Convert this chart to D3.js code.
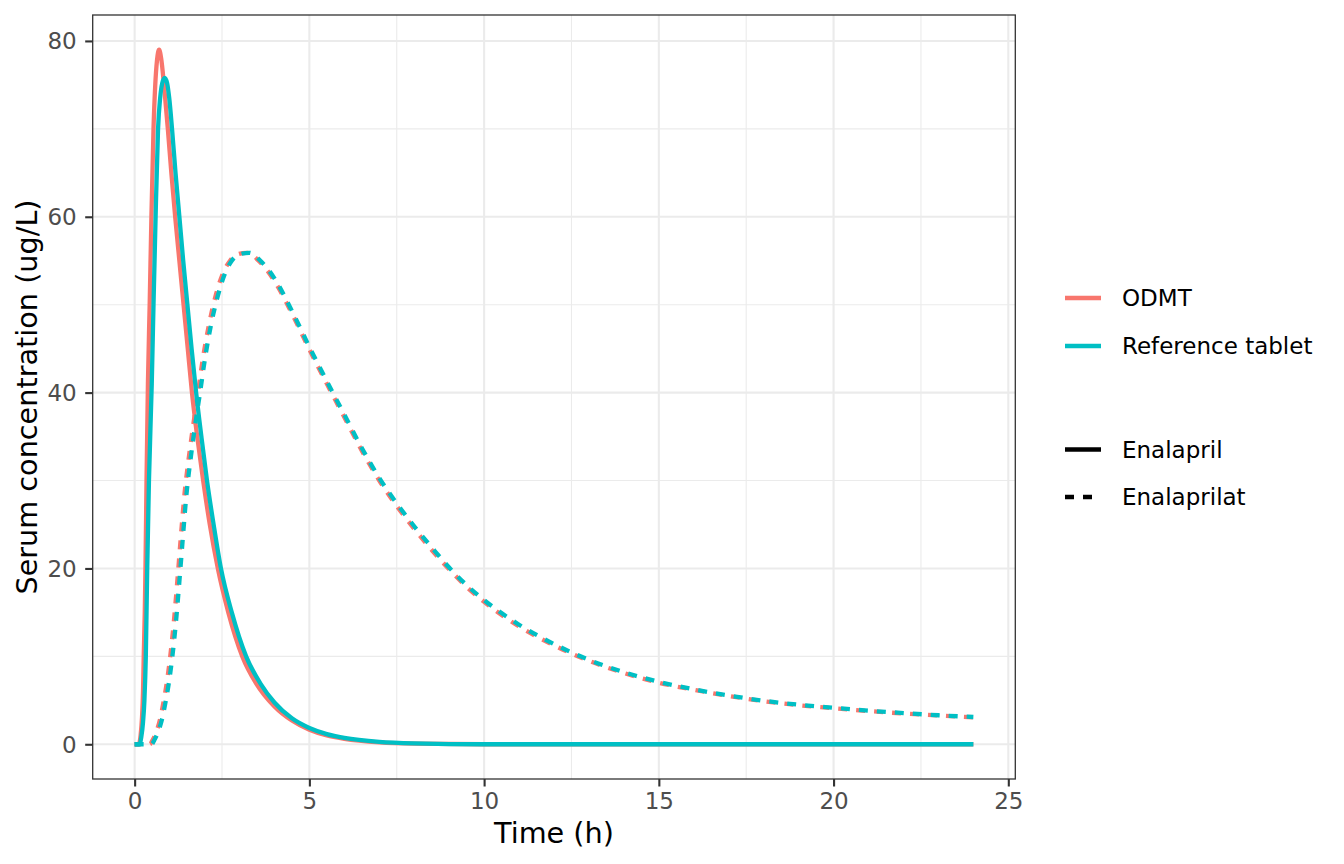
<!DOCTYPE html>
<html>
<head>
<meta charset="utf-8">
<script src="https://cdn.jsdelivr.net/npm/d3@7"></script>
<style>
	body { margin: 0; background: #fff; }
	text { font-family: "DejaVu Sans", sans-serif; }
</style>
</head>
<body>
<div id="chart"></div>
<script>
// Enalapril (solid) and enalaprilat (dashed) serum curves for the two formulations
var formulations= ["ODMT","Reference tablet"];
var analytes= ["Enalapril","Enalaprilat"];
var form_colors= ["#F8766D","#00BFC4"];

var odmt_enalapril_t= [0,0.12,0.17,0.21,0.24,0.26,0.29,0.31,0.34,0.38,0.43,0.48,0.54,0.59,0.64,0.70,0.76,0.84,0.95,1.05,1.16,1.28,1.40,1.52,1.64,1.79,1.96,2.15,2.38,2.68,3.08,3.48,4.0,4.5,5.0,5.5,6.0,7.0,8.0,10.0,24.0];
var odmt_enalapril_c= [0,0,1,3,6,10,15,20,30,41,50,60,70,75,77.8,79,78,75,70,65,60,55,50,45,40,35,30,25,20,15,10,6.9,4.3,2.7,1.65,1.0,0.62,0.22,0.07,0,0];

var ref_enalapril_t= [0,0.14,0.19,0.24,0.28,0.32,0.36,0.41,0.49,0.54,0.60,0.67,0.73,0.79,0.86,0.93,0.99,1.07,1.17,1.28,1.39,1.51,1.63,1.76,1.91,2.07,2.26,2.47,2.78,3.19,3.6,4.0,4.5,5.0,5.5,6.0,7.0,8.0,10.0,24.0];
var ref_enalapril_c= [0,0,0.8,2.5,5,10,20,30,41,50,60,70,73.5,75.2,75.8,75.2,73.5,70,65,60,55,50,45,40,35,30,25,20,15,10,6.9,4.75,2.95,1.85,1.15,0.72,0.27,0.1,0,0];

var odmt_enalaprilat_t= [0,0.43,0.53,0.63,0.73,0.83,0.93,1.03,1.13,1.23,1.33,1.43,1.53,1.63,1.73,1.83,1.93,2.13,2.33,2.53,2.73,2.93,3.2,3.6,4.0,4.5,5.0,5.5,6.0,6.5,7.0,7.5,8.0,8.5,9.0,9.5,10,11,12,13,14,15,16,17,18,19,20,21,22,23,24];
var odmt_enalaprilat_c= [0,0,0.6,1.5,2.9,4.9,7.3,10.4,14.3,19.0,24.0,28.6,32.0,35.0,37.8,40.5,43.3,47.8,51.2,53.6,55.0,55.7,55.9,54.8,52.7,49.0,44.9,41.0,37.2,33.4,30.0,27.1,24.5,22.1,19.9,17.9,16.2,13.4,11.25,9.5,8.1,7.0,6.2,5.5,4.9,4.45,4.1,3.78,3.5,3.27,3.07];

var ref_enalaprilat_t= [0,0.48,0.58,0.68,0.78,0.88,0.98,1.08,1.18,1.28,1.38,1.48,1.58,1.68,1.78,1.88,1.98,2.18,2.38,2.58,2.78,2.98,3.28,3.6,4.0,4.5,5.0,5.5,6.0,6.5,7.0,7.5,8.0,8.5,9.0,9.5,10,11,12,13,14,15,16,17,18,19,20,21,22,23,24];
var ref_enalaprilat_c= [0,0,0.6,1.5,2.8,4.7,7.0,10.0,13.8,18.5,23.5,28.3,31.8,34.8,37.6,40.2,43.0,47.6,51.0,53.5,55.0,55.7,55.9,55.0,53.0,49.3,45.2,41.3,37.5,33.7,30.3,27.4,24.8,22.4,20.1,18.1,16.4,13.6,11.4,9.6,8.2,7.1,6.25,5.55,4.95,4.5,4.15,3.82,3.55,3.3,3.1];

var x_ticks= [0,5,10,15,20,25];
var y_ticks= [0,20,40,60,80];

function zip(t, c) {
	return t.map(function(d, i) { return {t: d, c: c[i]}; });
}

// drawing order as in the source plot: ODMT first, reference on top
var series= [
	{form: 0, analyte: 0, data: zip(odmt_enalapril_t, odmt_enalapril_c)},
	{form: 0, analyte: 1, data: zip(odmt_enalaprilat_t, odmt_enalaprilat_c)},
	{form: 1, analyte: 0, data: zip(ref_enalapril_t, ref_enalapril_c)},
	{form: 1, analyte: 1, data: zip(ref_enalaprilat_t, ref_enalaprilat_c)}
];

function draw_chart(view) {
	var W= 1344, H= 864;
	var left= 92.7, right= 1015.3, top= 15, bottom= 779;
	var lw= 4.3;

	var svg= d3.select("#" + view)
		.append("svg")
		.attr("width", W)
		.attr("height", H);

	var x= d3.scaleLinear().domain([-1.2, 25.2]).range([left, right]);
	var y= d3.scaleLinear().domain([-3.95, 82.95]).range([bottom, top]);

	var grid= svg.append("g");
	var x_minor= [2.5,7.5,12.5,17.5,22.5];
	var y_minor= [10,30,50,70];

	grid.selectAll(".xminor").data(x_minor).enter().append("line")
		.attr("x1", function(d) { return x(d); }).attr("x2", function(d) { return x(d); })
		.attr("y1", top).attr("y2", bottom)
		.attr("stroke", "#EBEBEB").attr("stroke-width", 1.1);
	grid.selectAll(".yminor").data(y_minor).enter().append("line")
		.attr("x1", left).attr("x2", right)
		.attr("y1", function(d) { return y(d); }).attr("y2", function(d) { return y(d); })
		.attr("stroke", "#EBEBEB").attr("stroke-width", 1.1);
	grid.selectAll(".xmajor").data(x_ticks).enter().append("line")
		.attr("x1", function(d) { return x(d); }).attr("x2", function(d) { return x(d); })
		.attr("y1", top).attr("y2", bottom)
		.attr("stroke", "#EBEBEB").attr("stroke-width", 2.1);
	grid.selectAll(".ymajor").data(y_ticks).enter().append("line")
		.attr("x1", left).attr("x2", right)
		.attr("y1", function(d) { return y(d); }).attr("y2", function(d) { return y(d); })
		.attr("stroke", "#EBEBEB").attr("stroke-width", 2.1);

	var line= d3.line()
		.x(function(d) { return x(d.t); })
		.y(function(d) { return y(d.c); })
		.curve(d3.curveMonotoneX);

	svg.append("g").selectAll("path")
		.data(series)
		.enter().append("path")
		.attr("d", function(d) { return line(d.data); })
		.attr("fill", "none")
		.attr("stroke", function(d) { return form_colors[d.form]; })
		.attr("stroke-width", lw)
		.attr("stroke-linejoin", "round")
		.attr("stroke-dasharray", function(d) { return d.analyte== 1 ? "9,9" : null; })
		.attr("stroke-dashoffset", function(d) { return (d.analyte== 1 && d.form== 0) ? 2.5 : 0; });

	svg.append("rect")
		.attr("x", left).attr("y", top)
		.attr("width", right- left).attr("height", bottom- top)
		.attr("fill", "none")
		.attr("stroke", "#333333")
		.attr("stroke-width", 1.3);

	// axes
	var x_axis= d3.axisBottom(x).tickValues(x_ticks).tickSize(7.5).tickPadding(5);
	var y_axis= d3.axisLeft(y).tickValues(y_ticks).tickSize(7.5).tickPadding(5);

	var gx= svg.append("g").attr("transform", "translate(0," + bottom + ")").call(x_axis);
	var gy= svg.append("g").attr("transform", "translate(" + left + ",0)").call(y_axis);

	[gx, gy].forEach(function(g) {
		g.select(".domain").remove();
		g.selectAll(".tick line").attr("stroke", "#333333").attr("stroke-width", 2.1);
		g.selectAll(".tick text")
			.attr("fill", "#4D4D4D")
			.style("font-size", "23px")
			.style("font-family", "DejaVu Sans");
	});
	gx.selectAll(".tick text").attr("y", 13.5).attr("dy", "0.71em");
	gy.selectAll(".tick text").attr("x", -16).attr("dy", "0.35em");

	svg.append("text")
		.attr("x", (left+ right)/ 2)
		.attr("y", 843)
		.attr("text-anchor", "middle")
		.style("font-size", "28.7px")
		.text("Time (h)");

	svg.append("text")
		.attr("transform", "translate(37," + ((top+ bottom)/ 2) + ") rotate(-90)")
		.attr("text-anchor", "middle")
		.style("font-size", "28.7px")
		.text("Serum concentration (ug/L)");

	// legends
	var legend= svg.append("g");
	var col_rows= [298, 346];
	var lt_rows= [449.5, 497];

	formulations.forEach(function(name, i) {
		legend.append("line")
			.attr("x1", 1065).attr("x2", 1101)
			.attr("y1", col_rows[i]).attr("y2", col_rows[i])
			.attr("stroke", form_colors[i])
			.attr("stroke-width", lw);
		legend.append("text")
			.attr("x", 1122)
			.attr("y", col_rows[i])
			.attr("dy", "0.35em")
			.style("font-size", "23px")
			.text(name);
	});

	analytes.forEach(function(name, i) {
		legend.append("line")
			.attr("x1", 1065).attr("x2", 1101)
			.attr("y1", lt_rows[i]).attr("y2", lt_rows[i])
			.attr("stroke", "#000")
			.attr("stroke-width", lw)
			.attr("stroke-dasharray", i== 1 ? "9,9" : null);
		legend.append("text")
			.attr("x", 1122)
			.attr("y", lt_rows[i])
			.attr("dy", "0.35em")
			.style("font-size", "23px")
			.text(name);
	});
}

draw_chart("chart");
</script>
</body>
</html>
